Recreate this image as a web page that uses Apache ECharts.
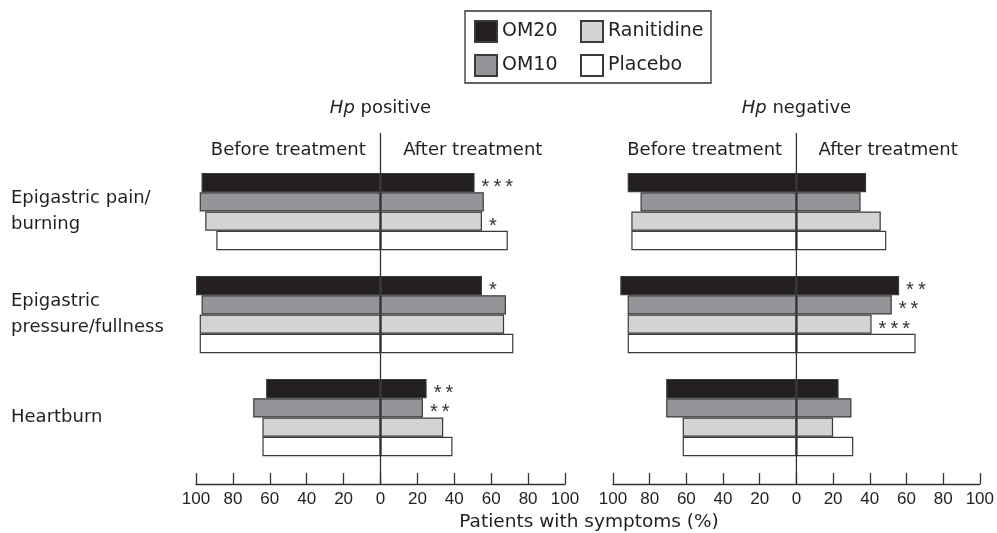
<!DOCTYPE html>
<html>
<head>
<meta charset="utf-8">
<script src="https://cdn.jsdelivr.net/npm/echarts@6/dist/echarts.min.js"></script>
<style>
  html, body { margin: 0; padding: 0; background: #fff; }
  #chart { width: 997px; height: 533px; }
</style>
</head>
<body>
<div id="chart"></div>
<script>
// Symptom rows and treatment groups
const symptoms = ['Epigastric pain/\nburning', 'Epigastric\npressure/fullness', 'Heartburn'];
const treatments = ['OM20', 'OM10', 'Ranitidine', 'Placebo'];

// Hp positive: patients with symptoms (%) before treatment
const posBeforeOM20 = [97, 100, 62];
const posBeforeOM10 = [98, 97, 69];
const posBeforeRanitidine = [95, 98, 64];
const posBeforePlacebo = [89, 98, 64];
// Hp positive: after treatment
const posAfterOM20 = [51, 55, 25];
const posAfterOM10 = [56, 68, 23];
const posAfterRanitidine = [55, 67, 34];
const posAfterPlacebo = [69, 72, 39];

// Hp negative: before treatment
const negBeforeOM20 = [92, 96, 71];
const negBeforeOM10 = [85, 92, 71];
const negBeforeRanitidine = [90, 92, 62];
const negBeforePlacebo = [90, 92, 62];
// Hp negative: after treatment
const negAfterOM20 = [38, 56, 23];
const negAfterOM10 = [35, 52, 30];
const negAfterRanitidine = [46, 41, 20];
const negAfterPlacebo = [49, 65, 31];

// Significance markers shown next to the after-treatment bars
const sigPosOM20 = ['***', '*', '**'];
const sigPosOM10 = ['', '', '**'];
const sigPosRanitidine = ['*', '', ''];
const sigPosPlacebo = ['', '', ''];
const sigNegOM20 = ['', '**', ''];
const sigNegOM10 = ['', '**', ''];
const sigNegRanitidine = ['', '***', ''];
const sigNegPlacebo = ['', '', ''];

const panelTitles = ['positive', 'negative'];
const phaseTitles = ['Before treatment', 'After treatment'];
const axisTitle = 'Patients with symptoms (%)';

const fills = { OM20: '#231f20', OM10: '#939598', Ranitidine: '#d1d3d4', Placebo: '#ffffff' };
const edge = '#3a3a3a';
const ink = '#231f20';
const textFont = 'DejaVu Sans';

const panels = [
  {
    before: [posBeforeOM20, posBeforeOM10, posBeforeRanitidine, posBeforePlacebo],
    after: [posAfterOM20, posAfterOM10, posAfterRanitidine, posAfterPlacebo],
    sig: [sigPosOM20, sigPosOM10, sigPosRanitidine, sigPosPlacebo]
  },
  {
    before: [negBeforeOM20, negBeforeOM10, negBeforeRanitidine, negBeforePlacebo],
    after: [negAfterOM20, negAfterOM10, negAfterRanitidine, negAfterPlacebo],
    sig: [sigNegOM20, sigNegOM10, sigNegRanitidine, sigNegPlacebo]
  }
];

// Asterisks are spread apart with thin spaces
const spaced = s => s.split('').join('\u2009');

// Each treatment bar is a stack: before-values to the left of 0, after-values to the right
const series = [];
panels.forEach((panel, p) => {
  treatments.forEach((name, t) => {
    const common = {
      name: name,
      type: 'bar',
      stack: 'p' + p + '-' + name,
      xAxisIndex: p,
      yAxisIndex: p,
      barGap: '0%',
      barCategoryGap: '25%',
      itemStyle: { color: fills[name], borderColor: edge, borderWidth: 1.2 },
      emphasis: { disabled: true }
    };
    series.push(Object.assign({}, common, {
      data: panel.before[t].map(v => -v)
    }));
    const sig = panel.sig[t];
    series.push(Object.assign({}, common, {
      data: panel.after[t].slice(),
      label: {
        show: true,
        position: 'right',
        distance: 7,
        offset: [0, 5],
        formatter: prm => spaced(sig[prm.dataIndex]),
        fontFamily: 'Liberation Sans',
        fontSize: 20,
        color: '#333'
      }
    }));
  });
});

const axisLineStyle = { color: '#333', width: 1.3 };

function xAxisFor(i) {
  return {
    type: 'value',
    gridIndex: i,
    min: -100,
    max: 100,
    interval: 20,
    offset: 15,
    axisLine: { show: true, lineStyle: axisLineStyle },
    axisTick: { show: true, inside: true, length: 11, lineStyle: axisLineStyle },
    axisLabel: {
      formatter: v => String(Math.abs(v)),
      fontFamily: 'Liberation Sans',
      fontSize: 17,
      color: ink,
      margin: 7
    },
    splitLine: { show: false }
  };
}

function yAxisFor(i) {
  return {
    type: 'category',
    gridIndex: i,
    data: symptoms,
    inverse: true,
    axisLine: { show: false },
    axisTick: { show: false },
    axisLabel: i === 0 ? {
      show: true,
      align: 'left',
      margin: 185,
      fontFamily: textFont,
      fontSize: 18,
      lineHeight: 26.5,
      color: ink
    } : { show: false }
  };
}

const legendBase = {
  padding: 0,
  itemWidth: 22,
  itemHeight: 21,
  icon: 'rect',
  selectedMode: false,
  textStyle: { fontFamily: textFont, fontSize: 19, color: ink }
};

const chart = echarts.init(document.getElementById('chart'));
chart.setOption({
  animation: false,
  backgroundColor: '#ffffff',
  grid: [
    { left: 196, top: 160, width: 369, height: 309 },
    { left: 613, top: 160, width: 369, height: 309 }
  ],
  xAxis: [xAxisFor(0), xAxisFor(1)],
  yAxis: [yAxisFor(0), yAxisFor(1)],
  legend: [
    Object.assign({}, legendBase, { data: ['OM20'], left: 474, top: 20 }),
    Object.assign({}, legendBase, { data: ['Ranitidine'], left: 580, top: 20 }),
    Object.assign({}, legendBase, { data: ['OM10'], left: 474, top: 54 }),
    Object.assign({}, legendBase, { data: ['Placebo'], left: 580, top: 54 })
  ],
  series: series
});

// Zero lines, panel headings and the shared axis title placed through the axis scales
const graphics = [
  {
    type: 'rect',
    shape: { x: 465, y: 11, width: 246, height: 72 },
    style: { fill: 'none', stroke: '#333', lineWidth: 1.3 },
    silent: true
  }
];
const axisY = 469 + 15;
[0, 1].forEach(i => {
  const zero = chart.convertToPixel({ xAxisIndex: i }, 0);
  const leftMid = chart.convertToPixel({ xAxisIndex: i }, -50);
  const rightMid = chart.convertToPixel({ xAxisIndex: i }, 50);
  graphics.push({
    type: 'line',
    z: 10,
    shape: { x1: zero, y1: 133, x2: zero, y2: axisY },
    style: { stroke: '#333', lineWidth: 1.3 },
    silent: true
  });
  graphics.push({
    type: 'text',
    x: zero,
    y: 108,
    style: {
      text: '{i|Hp} ' + panelTitles[i],
      rich: { i: { fontStyle: 'italic', fontFamily: textFont, fontSize: 18, fill: ink } },
      fontFamily: textFont,
      fontSize: 18,
      fill: ink,
      align: 'center',
      verticalAlign: 'middle'
    },
    silent: true
  });
  [leftMid, rightMid].forEach((cx, k) => {
    graphics.push({
      type: 'text',
      x: cx,
      y: 150,
      style: {
        text: phaseTitles[k],
        fontFamily: textFont,
        fontSize: 18,
        fill: ink,
        align: 'center',
        verticalAlign: 'middle'
      },
      silent: true
    });
  });
});
const midX = (chart.convertToPixel({ xAxisIndex: 0 }, 100) + chart.convertToPixel({ xAxisIndex: 1 }, -100)) / 2;
graphics.push({
  type: 'text',
  x: midX,
  y: 522,
  style: {
    text: axisTitle,
    fontFamily: textFont,
    fontSize: 18.5,
    fill: ink,
    align: 'center',
    verticalAlign: 'middle'
  },
  silent: true
});
chart.setOption({ graphic: graphics });
</script>
</body>
</html>
